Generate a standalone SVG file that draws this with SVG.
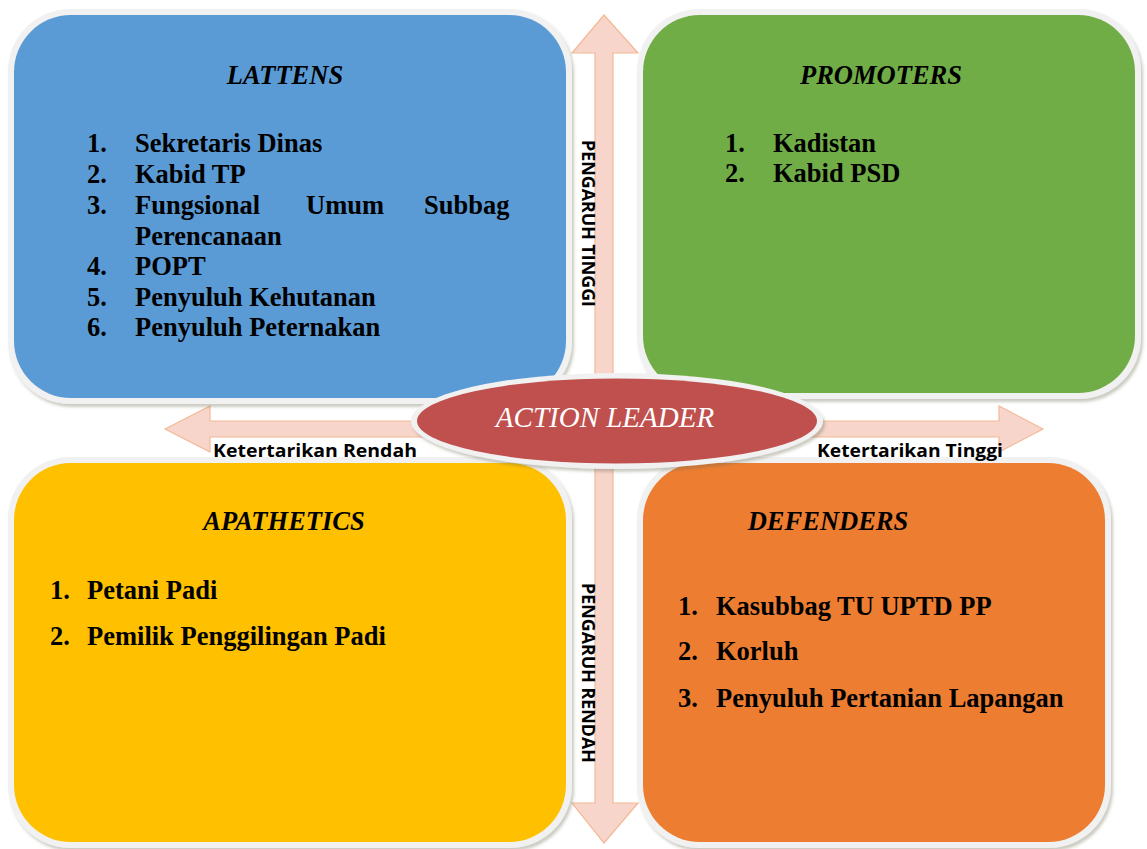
<svg xmlns="http://www.w3.org/2000/svg" width="1147" height="849" viewBox="0 0 1147 849">
<defs>
<filter id="sh" x="-5%" y="-5%" width="112%" height="115%">
<feDropShadow dx="2" dy="3" stdDeviation="1.8" flood-color="#6b6b50" flood-opacity="0.35"/>
</filter>
<style>
.frame{fill:#F1F1F1;filter:url(#sh)}
.arrow{fill:#F8D5CB;stroke:#F4B996;stroke-width:1.2}
.title{font-family:"Liberation Serif","Times New Roman",serif;font-size:26.5px;font-weight:bold;font-style:italic;fill:#000}
.item{font-family:"Liberation Serif","Times New Roman",serif;font-size:26.5px;font-weight:bold;fill:#000}
.lab{font-family:"Open Sans","Liberation Sans",sans-serif;font-size:18.5px;font-weight:700;fill:#000}
</style>
</defs>
<rect width="1147" height="849" fill="#FFFFFF"/>

<g id="connectors">
<path class="arrow" d="M604,15 L638,53 L613,53 L613,400 L595,400 L595,53 L572,53 Z"/>
<path class="arrow" d="M595,440 L613,440 L613,803 L638,803 L604,843 L572,803 L595,803 Z"/>
<path class="arrow" d="M165,429 L210,406 L210,421 L620,421 L620,437 L210,437 L210,452 Z"/>
<path class="arrow" d="M1043,429 L999,406 L999,421 L610,421 L610,437 L999,437 L999,452 Z"/>
</g>

<g id="lattens">
<rect class="frame" x="8" y="9" width="564" height="395" rx="62"/>
<rect x="14" y="15" width="552" height="383" rx="57" fill="#5B9BD5"/>
<text class="title" x="285" y="84" text-anchor="middle">LATTENS</text>
<text class="item" x="87" y="152">1.</text><text class="item" x="135" y="152">Sekretaris Dinas</text>
<text class="item" x="87" y="183">2.</text><text class="item" x="135" y="183">Kabid TP</text>
<text class="item" x="87" y="214">3.</text><text class="item" y="214"><tspan x="135">Fungsional</tspan><tspan x="306">Umum</tspan><tspan x="424">Subbag</tspan></text>
<text class="item" x="135" y="245">Perencanaan</text>
<text class="item" x="87" y="275">4.</text><text class="item" x="135" y="275">POPT</text>
<text class="item" x="87" y="306">5.</text><text class="item" x="135" y="306">Penyuluh Kehutanan</text>
<text class="item" x="87" y="336">6.</text><text class="item" x="135" y="336">Penyuluh Peternakan</text>
</g>

<g id="promoters">
<rect class="frame" x="637" y="9" width="504" height="390" rx="62"/>
<rect x="643" y="15" width="492" height="378" rx="57" fill="#70AD47"/>
<text class="title" x="881" y="84" text-anchor="middle">PROMOTERS</text>
<text class="item" x="725" y="152">1.</text><text class="item" x="773" y="152">Kadistan</text>
<text class="item" x="725" y="182">2.</text><text class="item" x="773" y="182">Kabid PSD</text>
</g>

<g id="apathetics">
<rect class="frame" x="8" y="457" width="564" height="391" rx="62"/>
<rect x="14" y="463" width="552" height="379" rx="57" fill="#FFC000"/>
<text class="title" x="284" y="530" text-anchor="middle">APATHETICS</text>
<text class="item" x="50" y="599">1.</text><text class="item" x="87" y="599">Petani Padi</text>
<text class="item" x="50" y="645">2.</text><text class="item" x="87" y="645">Pemilik Penggilingan Padi</text>
</g>

<g id="defenders">
<rect class="frame" x="637" y="457" width="474" height="391" rx="62"/>
<rect x="643" y="463" width="462" height="379" rx="57" fill="#ED7D31"/>
<text class="title" x="828" y="530" text-anchor="middle">DEFENDERS</text>
<text class="item" x="678" y="615">1.</text><text class="item" x="716" y="615">Kasubbag TU UPTD PP</text>
<text class="item" x="678" y="660">2.</text><text class="item" x="716" y="660">Korluh</text>
<text class="item" x="678" y="707">3.</text><text class="item" x="716" y="707">Penyuluh Pertanian Lapangan</text>
</g>

<g id="action-leader">
<ellipse cx="617" cy="421" rx="206" ry="48" fill="#F1F1F1" filter="url(#sh)"/>
<ellipse cx="617" cy="421" rx="200" ry="42.5" fill="#C0504D"/>
<text x="605" y="427" text-anchor="middle" font-family="'Liberation Serif','Times New Roman',serif" font-size="29" font-style="italic" fill="#FFFFFF">ACTION LEADER</text>
</g>

<g id="axis-labels">
<text class="lab" x="213" y="457" textLength="204" lengthAdjust="spacingAndGlyphs">Ketertarikan Rendah</text>
<text class="lab" x="817" y="457" textLength="186" lengthAdjust="spacingAndGlyphs">Ketertarikan Tinggi</text>
<text class="lab" transform="translate(582,140) rotate(90)" x="0" y="0" textLength="167" lengthAdjust="spacingAndGlyphs">PENGARUH TINGGI</text>
<text class="lab" transform="translate(582,583) rotate(90)" x="0" y="0" textLength="180" lengthAdjust="spacingAndGlyphs">PENGARUH RENDAH</text>
</g>
</svg>
